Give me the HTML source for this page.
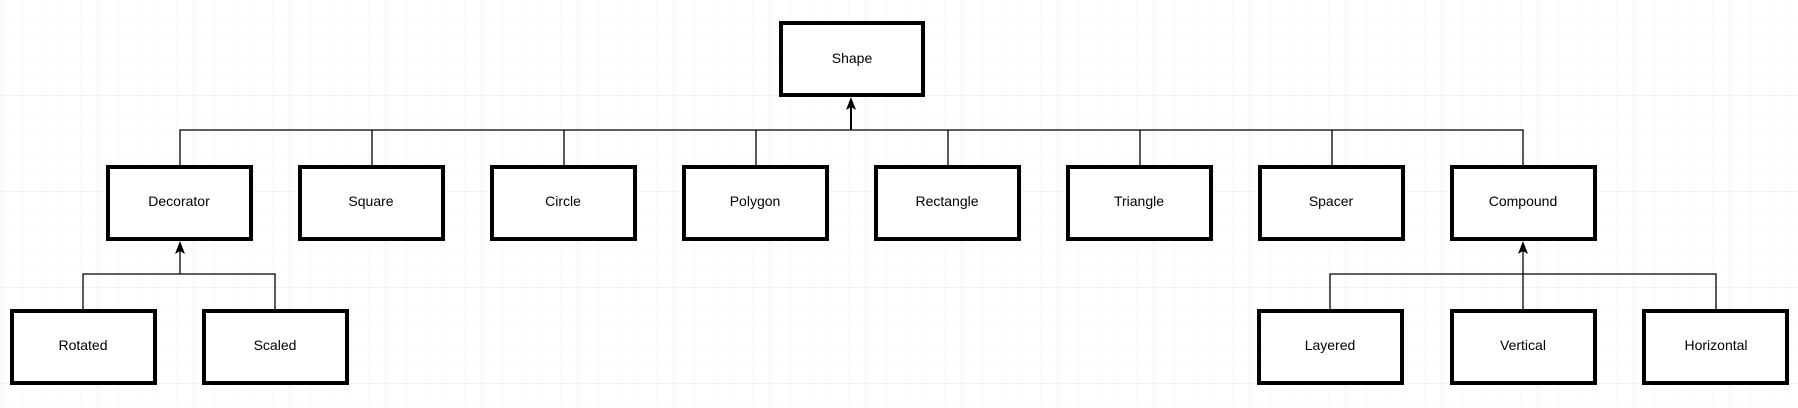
<!DOCTYPE html>
<html><head><style>
html,body{margin:0;padding:0;background:#fff;}
svg{display:block;}
text{font-family:"Liberation Sans",Arial,sans-serif;font-size:14px;fill:#000;}
</style></head><body>
<svg width="1798" height="408" viewBox="0 0 1798 408" xmlns="http://www.w3.org/2000/svg">
<defs>
<pattern id="minor" width="19.2" height="19.2" patternUnits="userSpaceOnUse" x="2" y="0">
<path d="M19.2 0V19.2H0" fill="none" stroke="#f2f2f2" stroke-width="1"/>
</pattern>
<pattern id="major" width="96" height="96" patternUnits="userSpaceOnUse" x="2" y="0">
<rect width="96" height="96" fill="url(#minor)"/>
<path d="M96 0V96H0" fill="none" stroke="#e4e4e4" stroke-width="1"/>
</pattern>
</defs>
<rect width="1798" height="408" fill="url(#major)"/>
<g fill="#fff" stroke="#000" stroke-width="4">
<rect x="781" y="23" width="142" height="72"/>
<rect x="108" y="167" width="143" height="72"/>
<rect x="300" y="167" width="143" height="72"/>
<rect x="492" y="167" width="143" height="72"/>
<rect x="684" y="167" width="143" height="72"/>
<rect x="876" y="167" width="143" height="72"/>
<rect x="1068" y="167" width="143" height="72"/>
<rect x="1260" y="167" width="143" height="72"/>
<rect x="1452" y="167" width="143" height="72"/>
<rect x="12" y="311" width="143" height="72"/>
<rect x="204" y="311" width="143" height="72"/>
<rect x="1259" y="311" width="143" height="72"/>
<rect x="1452" y="311" width="143" height="72"/>
<rect x="1644" y="311" width="143" height="72"/>
</g>
<g fill="none" stroke="#000" stroke-width="1.3">
<path d="M180 165V130H1523V165 M372 130V165 M564 130V165 M756 130V165 M948 130V165 M1140 130V165 M1332 130V165"/>
<path d="M851 130V104" stroke-width="2"/>
<path d="M83 309V274H275V309"/>
<path d="M180 274V250"/>
<path d="M1330 309V274H1716V309"/>
<path d="M1523 309V250"/>
</g>
<g fill="#000">
<path d="M851 97 L856 110 L851 107 L846 110 Z"/>
<path d="M180 241 L185 254 L180 251 L175 254 Z"/>
<path d="M1523 241 L1528 254 L1523 251 L1518 254 Z"/>
</g>
<g text-anchor="middle">
<text x="852" y="63">Shape</text>
<text x="179" y="206">Decorator</text>
<text x="371" y="206">Square</text>
<text x="563" y="206">Circle</text>
<text x="755" y="206">Polygon</text>
<text x="947" y="206">Rectangle</text>
<text x="1139" y="206">Triangle</text>
<text x="1331" y="206">Spacer</text>
<text x="1523" y="206">Compound</text>
<text x="83" y="350">Rotated</text>
<text x="275" y="350">Scaled</text>
<text x="1330" y="350">Layered</text>
<text x="1523" y="350">Vertical</text>
<text x="1716" y="350">Horizontal</text>
</g>
</svg>
</body></html>
